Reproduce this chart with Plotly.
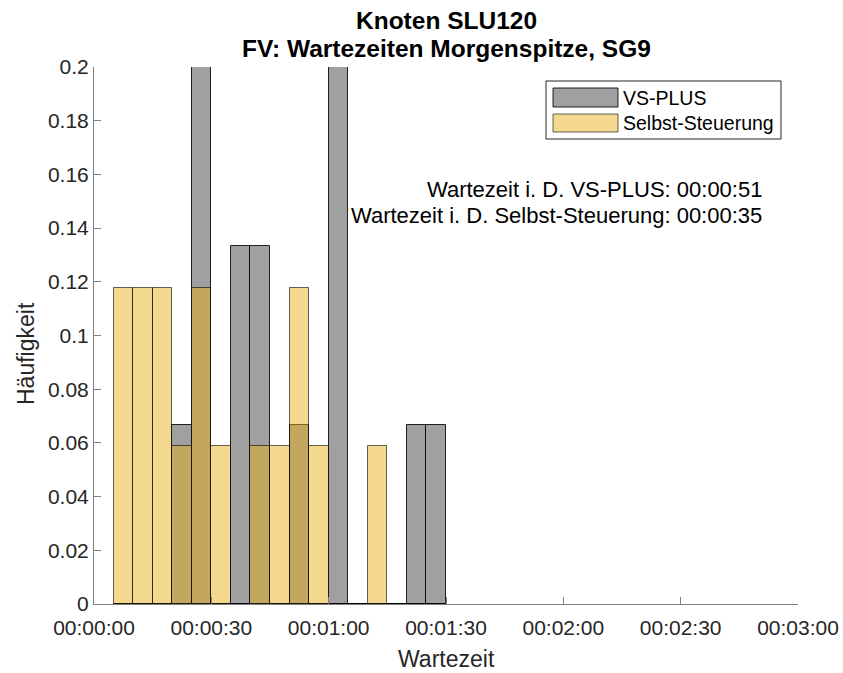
import plotly.graph_objects as go

# ---- data (bin width 5 s, probabilities) ----
bin_starts = [5, 10, 15, 20, 25, 30, 35, 40, 45, 50, 55, 60, 65, 70, 75, 80, 85]
vs_plus = [0, 0, 0, 0.0667, 0.2, 0, 0.1333, 0.1333, 0, 0.0667, 0, 0.2, 0, 0, 0, 0.0667, 0.0667]
selbst = [0.1176, 0.1176, 0.1176, 0.0588, 0.1176, 0.0588, 0, 0.0588, 0.0588, 0.1176, 0.0588, 0, 0, 0.0588, 0, 0, 0]
series_names = ["VS-PLUS", "Selbst-Steuerung"]
x_tickvals = [0, 30, 60, 90, 120, 150, 180]
x_ticktext = ["00:00:00", "00:00:30", "00:01:00", "00:01:30", "00:02:00", "00:02:30", "00:03:00"]
y_tickvals = [0, 0.02, 0.04, 0.06, 0.08, 0.1, 0.12, 0.14, 0.16, 0.18, 0.2]
y_ticktext = ["0", "0.02", "0.04", "0.06", "0.08", "0.1", "0.12", "0.14", "0.16", "0.18", "0.2"]
title_lines = ["Knoten SLU120", "FV: Wartezeiten Morgenspitze, SG9"]
info_lines = ["Wartezeit i. D. VS-PLUS: 00:00:51", "Wartezeit i. D. Selbst-Steuerung: 00:00:35"]
bin_width = 5

FONT = "Liberation Sans, Arial, Helvetica, sans-serif"
TXT = "#262626"
AX = "#808080"
GREY = "rgb(160,160,160)"
YEL = "rgba(234,174,24,0.484)"

centers = [s + bin_width / 2 for s in bin_starts]

fig = go.Figure()
fig.add_trace(go.Bar(x=centers, y=vs_plus, width=bin_width, name=series_names[0],
                     marker=dict(color=GREY, line=dict(color="rgba(0,0,0,0.85)", width=1)),
                     showlegend=False))
fig.add_trace(go.Bar(x=centers, y=selbst, width=bin_width, name=series_names[1],
                     marker=dict(color=YEL, line=dict(color="rgba(0,0,0,0.6)", width=1)),
                     showlegend=False))

W, H = 843, 673
L, R, T, B = 94, 798, 67, 604

def px(x):
    return (x - L) / (R - L)

def py(y):
    return (B - y) / (B - T)

annotations = []
# titles
for line, yy in zip(title_lines, [21, 49]):
    annotations.append(dict(text="<b>%s</b>" % line, x=0.5, y=py(yy), xref="paper", yref="paper",
                            showarrow=False, xanchor="center", yanchor="middle",
                            font=dict(family=FONT, size=24.5, color="black")))
# axis titles
annotations.append(dict(text="Wartezeit", x=0.5, y=py(659), xref="paper", yref="paper",
                        showarrow=False, xanchor="center", yanchor="middle",
                        font=dict(family=FONT, size=23, color=TXT)))
annotations.append(dict(text="Häufigkeit", x=px(26), y=py(354), xref="paper", yref="paper",
                        showarrow=False, xanchor="center", yanchor="middle", textangle=-90,
                        font=dict(family=FONT, size=23, color=TXT)))
# info text
for line, yy in zip(info_lines, [189, 215]):
    annotations.append(dict(text=line, x=px(764), y=py(yy), xref="paper", yref="paper",
                            showarrow=False, xanchor="right", yanchor="middle",
                            font=dict(family=FONT, size=22, color="black")))
# legend text
for name, yy in zip(series_names, [97.5, 123]):
    annotations.append(dict(text=name, x=px(621), y=py(yy), xref="paper", yref="paper",
                            showarrow=False, xanchor="left", yanchor="middle",
                            font=dict(family=FONT, size=19.5, color="black")))

shapes = []
# legend box
shapes.append(dict(type="rect", xref="paper", yref="paper", x0=px(546), x1=px(781), y0=py(139), y1=py(81),
                   line=dict(color="#262626", width=1), fillcolor="white", layer="above"))
shapes.append(dict(type="rect", xref="paper", yref="paper", x0=px(553), x1=px(618), y0=py(107), y1=py(88),
                   line=dict(color="rgba(0,0,0,0.85)", width=1), fillcolor=GREY, layer="above"))
shapes.append(dict(type="rect", xref="paper", yref="paper", x0=px(553), x1=px(618), y0=py(132), y1=py(114),
                   line=dict(color="rgba(0,0,0,0.6)", width=1), fillcolor=YEL, layer="above"))

fig.update_layout(
    width=W, height=H,
    margin=dict(l=L, r=W - R, t=T, b=H - B, pad=0, autoexpand=False),
    paper_bgcolor="white", plot_bgcolor="white",
    barmode="overlay", bargap=0,
    font=dict(family=FONT, size=21, color=TXT),
    annotations=annotations, shapes=shapes,
    showlegend=False,
)
fig.update_xaxes(range=[0, 180], tickvals=x_tickvals, ticktext=x_ticktext, automargin=False,
                 showgrid=False, zeroline=False, showline=True, linecolor=AX, linewidth=1,
                 ticks="inside", ticklen=7, tickcolor=AX, tickfont=dict(family=FONT, size=21, color=TXT),
                 ticklabelstandoff=5, mirror=False)
fig.update_yaxes(range=[0, 0.2], tickvals=y_tickvals, ticktext=y_ticktext, automargin=False,
                 showgrid=False, zeroline=False, showline=True, linecolor=AX, linewidth=1,
                 ticks="inside", ticklen=7, tickcolor=AX, tickfont=dict(family=FONT, size=21, color=TXT),
                 mirror=False)

fig.write_html("out.html", config={"displayModeBar": False},
               post_script="document.body.style.margin='0px';document.body.style.overflow='hidden';")
